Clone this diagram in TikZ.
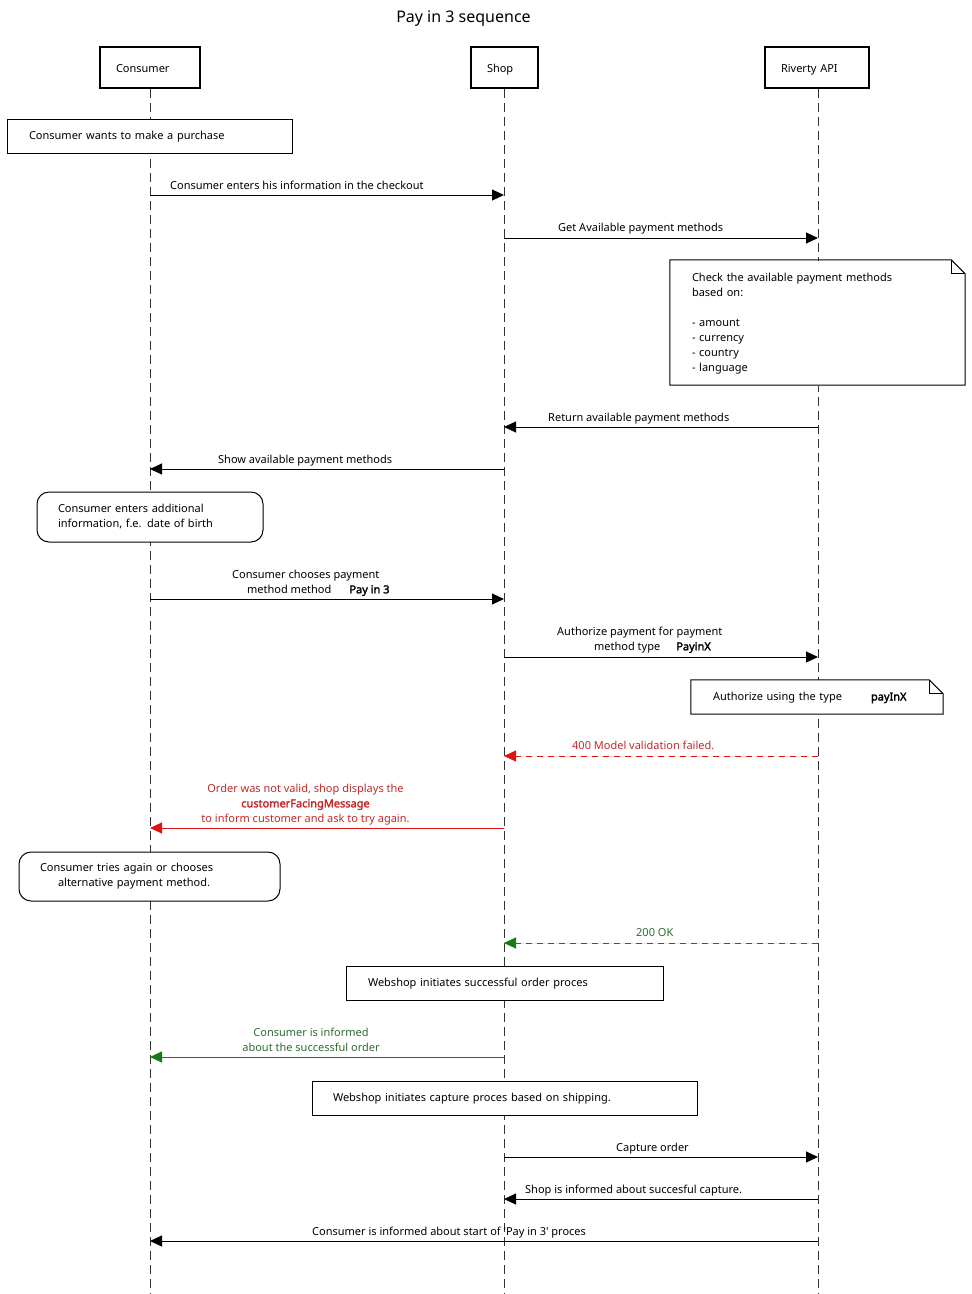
\documentclass[tikz,border=0pt]{standalone}
\usepackage{fontspec}
\setmainfont{Noto Sans}[BoldFont={Noto Sans},BoldFeatures={FakeBold=2.2}]
\usetikzlibrary{arrows.meta}
\definecolor{errred}{HTML}{DD1515}
\definecolor{errtext}{HTML}{C62828}
\definecolor{okgreen}{HTML}{167A16}
\definecolor{oktext}{HTML}{2E6B2E}
\definecolor{lifegray}{HTML}{333333}
\begin{document}
\begin{tikzpicture}[x=1pt,y=-1pt,
  txt/.style={font=\fontsize{11}{15}\selectfont},
  actor/.style={txt,draw,line width=2pt,minimum height=41pt,inner xsep=16pt,inner ysep=0pt,align=left,text height=10pt,text depth=0pt},
  lifeline/.style={draw=lifegray,line width=1pt,dash pattern=on 9pt off 5pt},
  notebox/.style={txt,draw,fill=white,line width=1pt,inner ysep=0pt,align=left},
  oneline/.style={text height=9pt,text depth=2pt},
  roundnote/.style={notebox,rounded corners=12pt},
  foldnote/.style={txt,fill=white,inner ysep=0pt,align=left},
  msg/.style={line width=1pt,-{Triangle[length=12pt,width=11pt]}},
  lbl/.style={txt,inner sep=0pt,text depth=2.5pt,anchor=south west,align=left},
  clbl/.style={lbl,anchor=south,align=center},
  errmsg/.style={msg,draw=errred,fill=errred},
  okmsg/.style={msg,draw=okgreen,fill=okgreen},
  dashmsg/.style={dash pattern=on 6pt off 5pt}
]
\useasboundingbox (0,0) rectangle (972,1294);

% title
\node[inner sep=0pt] (title) at (463.5,19) {\fontsize{16}{19}\selectfont Pay in 3 sequence};

% actors
\node[actor,text width=68pt] (consumer) at (150,67.5) {Consumer};
\node[actor,text width=35pt] (shop) at (504.5,67.5) {Shop};
\node[actor,text width=72pt] (riverty) at (817,67.5) {Riverty API};

% lifeline ends
\coordinate (cEnd) at (150,1294);
\coordinate (sEnd) at (504,1294);
\coordinate (rEnd) at (818,1294);
\draw[lifeline] (150,89) -- (cEnd);
\draw[lifeline] (504,89) -- (sEnd);
\draw[lifeline] (818,89) -- (rEnd);

% notes
\node[notebox,oneline,minimum width=285pt,minimum height=34pt,text width=241pt,inner xsep=22pt] (n1) at (149.5,136) {Consumer wants to make a purchase};

\node[foldnote,minimum width=295pt,minimum height=125pt,text width=251pt,inner xsep=22pt] (n2) at (817.5,323.5)
  {Check the available payment methods\\ based on:\\[15pt] - amount\\ - currency\\ - country\\ - language};
\draw[line width=1pt] ([yshift=1pt]n2.south west) -- ([yshift=1pt]n2.north west) -- ([xshift=-14pt,yshift=1pt]n2.north east) -- ([yshift=-13pt]n2.north east) -- ([yshift=1pt]n2.south east) -- cycle;
\draw[line width=1pt] ([xshift=-14pt,yshift=1pt]n2.north east) |- ([yshift=-13pt]n2.north east);

\node[roundnote,minimum width=226pt,minimum height=50pt,text width=184pt,inner xsep=21pt] (n3) at (150,517)
  {Consumer enters additional\\ information, f.e. date of birth};

\node[foldnote,oneline,minimum width=252pt,minimum height=34pt,text width=208pt,inner xsep=22pt] (n4) at (817,697)
  {Authorize using the type\hspace*{29pt}\textbf{payInX}};
\draw[line width=1pt] (n4.south west) -- (n4.north west) -- ([xshift=-14pt]n4.north east) -- ([yshift=-14pt]n4.north east) -- (n4.south east) -- cycle;
\draw[line width=1pt] ([xshift=-14pt]n4.north east) |- ([yshift=-14pt]n4.north east);

\node[roundnote,minimum width=261pt,minimum height=49pt,text width=219pt,inner xsep=21pt] (n5) at (149.5,876.5)
  {Consumer tries again or chooses\\ \hspace*{18pt}alternative payment method.};

\node[notebox,oneline,minimum width=317pt,minimum height=34pt,text width=273pt,inner xsep=22pt] (n6) at (504.5,983)
  {Webshop initiates successful order proces};

\node[notebox,oneline,minimum width=385pt,minimum height=34pt,text width=343pt,inner xsep=21pt] (n7) at (504.5,1098)
  {Webshop initiates capture proces based on shipping.};

% message anchor points
\coordinate (c1) at (150,195);  \coordinate (s1) at (504,195);
\coordinate (s2) at (504,238);  \coordinate (r2) at (818,238);
\coordinate (r3) at (818,427);  \coordinate (s3) at (504,427);
\coordinate (s4) at (504,469);  \coordinate (c4) at (150,469);
\coordinate (c5) at (150,599);  \coordinate (s5) at (504,599);
\coordinate (s6) at (504,657);  \coordinate (r6) at (818,657);
\coordinate (r7) at (818,756);  \coordinate (s7) at (504,756);
\coordinate (s8) at (504,828);  \coordinate (c8) at (150,828);
\coordinate (r9) at (818,943);  \coordinate (s9) at (504,943);
\coordinate (s10) at (504,1057); \coordinate (c10) at (150,1057);
\coordinate (s11) at (504,1157); \coordinate (r11) at (818,1157);
\coordinate (r12) at (818,1199); \coordinate (s12) at (504,1199);
\coordinate (r13) at (818,1241); \coordinate (c13) at (150,1241);

% messages
\draw[msg] (c1) -- (s1);
\node[lbl] (l1) at (170,192) {Consumer enters his information in the checkout};

\draw[msg] (s2) -- (r2);
\node[lbl] (l2) at (558,234) {Get Available payment methods};

\draw[msg] (r3) -- (s3);
\node[lbl] (l3) at (548,424) {Return available payment methods};

\draw[msg] (s4) -- (c4);
\node[lbl] (l4) at (218,466) {Show available payment methods};

\draw[msg] (c5) -- (s5);
\node[lbl] (l5) at (232,596) {Consumer chooses payment\\ \hspace*{15pt}method method\hspace*{18pt}\textbf{Pay in 3}};

\draw[msg] (s6) -- (r6);
\node[lbl] (l6) at (557,653) {Authorize payment for payment\\ \hspace*{37pt}method type\hspace*{16pt}\textbf{PayinX}};

\draw[errmsg,dashmsg] (r7) -- (s7);
\node[lbl,text=errtext] (l7) at (572,752) {400 Model validation failed.};

\draw[errmsg] (s8) -- (c8);
\node[clbl,text=errtext] (l8) at (305.5,825) {Order was not valid, shop displays the\\ \textbf{customerFacingMessage}\\ to inform customer and ask to try again.};

\draw[okmsg,dashmsg] (r9) -- (s9);
\node[lbl,text=oktext] (l9) at (636,939) {200 OK};

\draw[okmsg] (s10) -- (c10);
\node[clbl,text=oktext] (l10) at (311,1054) {Consumer is informed\\ about the successful order};

\draw[msg] (s11) -- (r11);
\node[lbl] (l11) at (616,1154) {Capture order};

\draw[msg] (r12) -- (s12);
\node[lbl] (l12) at (525,1196) {Shop is informed about succesful capture.};

\draw[msg] (r13) -- (c13);
\node[lbl] (l13) at (312,1238) {Consumer is informed about start of \textquotesingle Pay in 3\textquotesingle\ proces};
\end{tikzpicture}
\end{document}
